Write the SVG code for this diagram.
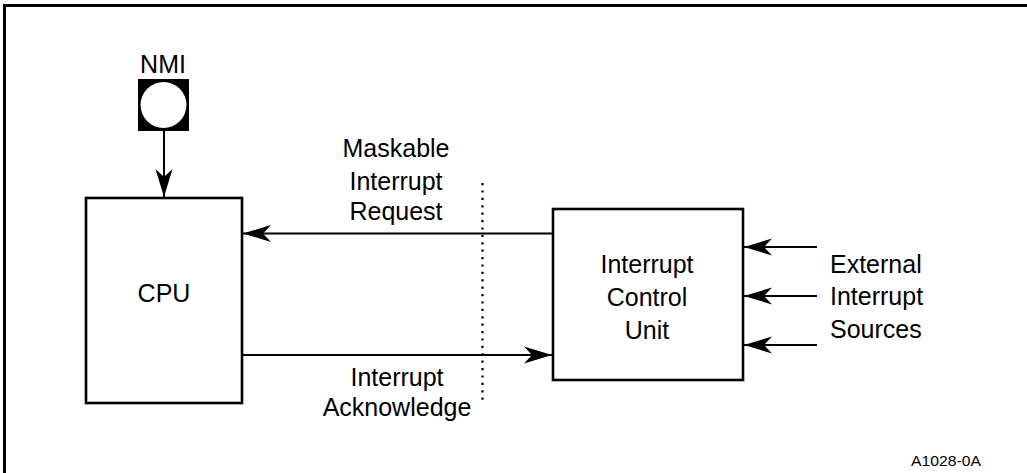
<svg xmlns="http://www.w3.org/2000/svg" width="1027" height="473" viewBox="0 0 1027 473">
<style>
.box{fill:#fff;stroke:#000;stroke-width:2.6}
.ln{fill:none;stroke:#000;stroke-width:2}
.t{font-family:"Liberation Sans",Arial,sans-serif;font-size:25px;fill:#000;text-anchor:middle}
.ts{font-family:"Liberation Sans",Arial,sans-serif;font-size:14.5px;fill:#000}
</style>
<defs>
<marker id="ah" viewBox="-29 -9 30 18" refX="0" refY="0" markerWidth="30" markerHeight="18" markerUnits="userSpaceOnUse" orient="auto">
<path d="M0,0 L-28,-8.5 L-20,0 L-28,8.5 Z" fill="#000"/>
</marker>
</defs>
<rect width="1027" height="473" fill="#fff"/>
<path d="M4.5,473 V5.5 H1027" fill="none" stroke="#000" stroke-width="3"/>
<g id="nmi">
<rect x="138" y="79" width="51" height="52" fill="#000"/>
<circle cx="163.5" cy="105" r="23" fill="#fff"/>
<text class="t" x="163" y="73">NMI</text>
</g>
<g id="cpu">
<rect class="box" x="86" y="198" width="156" height="205"/>
<text class="t" x="164" y="302">CPU</text>
</g>
<g id="icu">
<rect class="box" x="553" y="209" width="190" height="171"/>
<text class="t" x="647" y="273">Interrupt</text>
<text class="t" x="647" y="306">Control</text>
<text class="t" x="647" y="339">Unit</text>
</g>
<g id="labels">
<text class="t" x="396" y="157">Maskable</text>
<text class="t" x="396" y="190">Interrupt</text>
<text class="t" x="396" y="220">Request</text>
<text class="t" x="397" y="386">Interrupt</text>
<text class="t" x="397" y="416">Acknowledge</text>
<text class="t" x="830" y="273" style="text-anchor:start">External</text>
<text class="t" x="830" y="305" style="text-anchor:start">Interrupt</text>
<text class="t" x="830" y="338" style="text-anchor:start">Sources</text>
<text class="ts" x="911" y="466" textLength="70" lengthAdjust="spacingAndGlyphs">A1028-0A</text>
</g>
<g id="connectors">
<line class="ln" x1="164" y1="131" x2="164" y2="197" marker-end="url(#ah)"/>
<line class="ln" x1="553" y1="233.5" x2="243" y2="233.5" marker-end="url(#ah)"/>
<line class="ln" x1="242" y1="355" x2="552" y2="355" marker-end="url(#ah)"/>
<line class="ln" x1="817" y1="247" x2="744" y2="247" marker-end="url(#ah)"/>
<line class="ln" x1="817" y1="296" x2="744" y2="296" marker-end="url(#ah)"/>
<line class="ln" x1="817" y1="345" x2="744" y2="345" marker-end="url(#ah)"/>
<line x1="482.5" y1="183" x2="482.5" y2="405" stroke="#000" stroke-width="2.2" stroke-dasharray="2.2 5.2"/>
</g>
</svg>
